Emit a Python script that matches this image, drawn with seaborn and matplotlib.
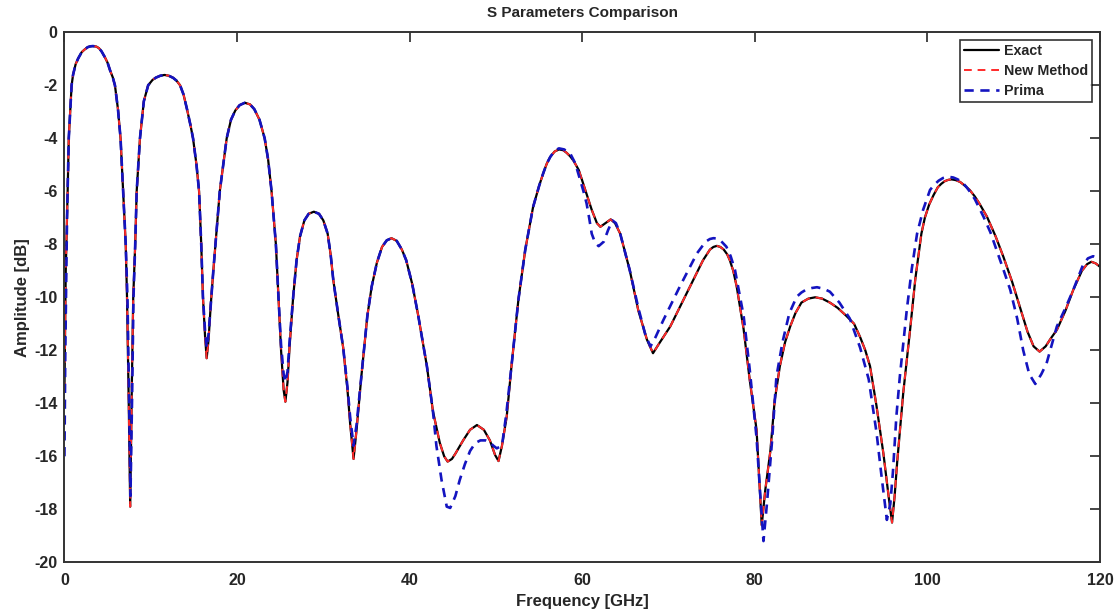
import matplotlib
matplotlib.use("Agg")
import matplotlib.pyplot as plt
import seaborn as sns

# values: (frequency GHz, amplitude dB)
exact_points = [
    (0.0, -13.5), (0.15, -9.0), (0.37, -6.0), (0.5, -4.0), (0.83, -2.0), (1.0, -1.6), (1.3, -1.2), (1.6, -0.98),
    (2.0, -0.75), (2.3, -0.66), (2.7, -0.56), (3.0, -0.53), (3.3, -0.52), (3.7, -0.54), (4.0, -0.6), (4.3, -0.72),
    (4.7, -0.95), (5.0, -1.15), (5.3, -1.45), (5.6, -1.7), (5.85, -2.0), (6.2, -2.9), (6.5, -4.0), (6.8, -6.0),
    (7.1, -8.0), (7.25, -10.0), (7.45, -14.0), (7.62, -17.9),
    (7.8, -13.5), (7.97, -10.0), (8.2, -8.0), (8.37, -6.0), (8.75, -4.0), (9.2, -2.6), (9.7, -2.0), (10.2, -1.8),
    (10.6, -1.71), (11.1, -1.64), (11.6, -1.61), (12.1, -1.64), (12.6, -1.72), (13.0, -1.83), (13.4, -2.0),
    (13.8, -2.35), (14.2, -2.9), (14.6, -3.5), (14.9, -4.0), (15.3, -5.0), (15.6, -6.0), (15.85, -8.0),
    (16.05, -10.0), (16.3, -11.5), (16.48, -12.3),
    (16.7, -11.6), (16.95, -10.3), (17.25, -9.0), (17.5, -8.0), (18.0, -6.0), (18.8, -4.0), (19.3, -3.3),
    (19.8, -2.95), (20.3, -2.75), (20.9, -2.66), (21.5, -2.72), (22.0, -2.9), (22.6, -3.3), (23.2, -4.0),
    (23.6, -4.8), (24.0, -6.0), (24.5, -8.0), (24.8, -10.0), (25.1, -12.0), (25.4, -13.5), (25.6, -13.94),
    (25.85, -13.2), (26.1, -11.8), (26.5, -10.0), (26.9, -8.6), (27.3, -7.7), (27.8, -7.1), (28.3, -6.85),
    (28.9, -6.77), (29.5, -6.85), (30.0, -7.1), (30.5, -7.6), (30.85, -8.4), (31.15, -9.34), (31.7, -10.6),
    (32.3, -11.9), (32.8, -13.5), (33.1, -14.75), (33.5, -16.1),
    (33.85, -15.0), (34.4, -13.0), (35.1, -10.7), (35.6, -9.6), (36.2, -8.7), (36.8, -8.1), (37.35, -7.85),
    (37.9, -7.77), (38.5, -7.87), (39.1, -8.2), (39.6, -8.6), (40.3, -9.5), (41.0, -10.7), (42.0, -12.6),
    (42.7, -14.3), (43.5, -15.5), (44.0, -16.0), (44.4, -16.2), (44.9, -16.1), (45.3, -15.9), (46.2, -15.4),
    (47.0, -15.0), (47.8, -14.82), (48.6, -15.0), (49.3, -15.4), (49.9, -15.95), (50.3, -16.18), (50.7, -15.6),
    (51.25, -14.5), (51.8, -12.6), (52.6, -10.1), (53.4, -8.2), (54.3, -6.6), (55.0, -5.8), (55.5, -5.3),
    (55.9, -4.95), (56.3, -4.7), (56.8, -4.5), (57.3, -4.42), (57.8, -4.45), (58.2, -4.55), (58.6, -4.68),
    (59.0, -4.85), (59.6, -5.2), (60.1, -5.7), (61.1, -6.7), (61.7, -7.2), (62.1, -7.34), (62.7, -7.2),
    (63.3, -7.06), (63.8, -7.2), (64.4, -7.6), (65.5, -8.97), (66.5, -10.5), (67.5, -11.6), (68.2, -12.11),
    (69.0, -11.7), (70.2, -11.1), (72.1, -9.85), (73.1, -9.2), (74.0, -8.6), (74.8, -8.2), (75.2, -8.1),
    (75.6, -8.06), (76.0, -8.1), (76.4, -8.2), (76.8, -8.38), (77.1, -8.6), (77.5, -9.0), (77.9, -9.6),
    (78.7, -11.2), (79.4, -13.1), (80.2, -15.0), (80.5, -16.8), (80.8, -18.6),
    (81.2, -17.3), (81.8, -15.8), (82.3, -13.9), (82.9, -12.6), (83.5, -11.7), (84.1, -11.1), (84.7, -10.6),
    (85.4, -10.2), (86.2, -10.05), (87.0, -10.0), (87.8, -10.05), (88.7, -10.2), (89.6, -10.4), (90.6, -10.7),
    (91.5, -11.0), (92.2, -11.5), (92.8, -12.0), (93.35, -12.6), (94.1, -14.1), (94.9, -15.9), (95.5, -17.5),
    (95.9, -18.5),
    (96.2, -17.5), (96.5, -16.2), (97.2, -13.6), (98.0, -11.2), (98.6, -9.3), (99.3, -7.6), (99.7, -7.0),
    (100.2, -6.5), (100.7, -6.15), (101.2, -5.85), (101.6, -5.72), (102.0, -5.62), (102.4, -5.57),
    (102.8, -5.55), (103.3, -5.58), (103.8, -5.65), (104.3, -5.78), (104.9, -5.95), (105.5, -6.2),
    (106.0, -6.45), (106.9, -6.96), (107.9, -7.7), (108.8, -8.47), (109.8, -9.4), (110.7, -10.35),
    (111.6, -11.3), (112.3, -11.85), (113.0, -12.05), (113.7, -11.85), (114.3, -11.55), (115.0, -11.23),
    (116.0, -10.5), (116.9, -9.72), (117.9, -9.0), (118.5, -8.75), (119.0, -8.66), (119.5, -8.72), (120.0, -8.85),
]

prima_points = [
    (0.0, -16.0), (0.1, -12.0), (0.3, -7.0), (0.5, -4.0), (0.83, -2.0), (1.0, -1.6), (1.3, -1.2), (1.6, -0.98),
    (2.0, -0.75), (2.3, -0.66), (2.7, -0.56), (3.0, -0.53), (3.3, -0.52), (3.7, -0.54), (4.0, -0.6), (4.3, -0.72),
    (4.7, -0.95), (5.0, -1.15), (5.3, -1.45), (5.6, -1.7), (5.85, -2.0), (6.2, -2.9), (6.5, -4.0), (6.8, -6.0),
    (7.1, -8.0), (7.3, -10.0), (7.5, -14.0), (7.65, -17.5),
    (7.85, -13.5), (8.0, -10.0), (8.2, -8.0), (8.37, -6.0), (8.75, -4.0), (9.2, -2.6), (9.7, -2.0), (10.2, -1.8),
    (10.6, -1.71), (11.1, -1.64), (11.6, -1.61), (12.1, -1.64), (12.6, -1.72), (13.0, -1.83), (13.4, -2.0),
    (13.8, -2.35), (14.2, -2.9), (14.6, -3.5), (14.9, -4.0), (15.3, -5.0), (15.6, -6.0), (15.85, -8.0),
    (16.05, -10.0), (16.3, -11.3), (16.48, -11.9),
    (16.7, -11.4), (16.95, -10.3), (17.25, -9.0), (17.5, -8.0), (18.0, -6.0), (18.8, -4.0), (19.3, -3.3),
    (19.8, -2.95), (20.3, -2.75), (20.9, -2.66), (21.5, -2.72), (22.0, -2.9), (22.6, -3.3), (23.2, -4.0),
    (23.6, -4.8), (24.0, -6.0), (24.5, -8.0), (24.8, -10.0), (25.1, -11.8), (25.4, -12.9), (25.6, -13.2),
    (25.85, -12.8), (26.1, -11.6), (26.5, -10.0), (26.9, -8.6), (27.3, -7.7), (27.8, -7.1), (28.3, -6.85),
    (28.9, -6.77), (29.5, -6.85), (30.0, -7.1), (30.5, -7.6), (30.85, -8.4), (31.15, -9.34), (31.7, -10.6),
    (32.3, -11.9), (32.8, -13.4), (33.1, -14.5), (33.5, -15.6),
    (33.85, -14.8), (34.4, -13.0), (35.1, -10.7), (35.6, -9.6), (36.2, -8.7), (36.8, -8.1), (37.35, -7.85),
    (37.9, -7.77), (38.5, -7.87), (39.1, -8.2), (39.6, -8.6), (40.3, -9.5), (41.0, -10.7), (42.0, -12.6),
    (42.7, -14.3), (43.1, -15.6), (43.7, -16.9), (44.3, -17.9), (44.7, -17.95), (45.3, -17.5), (45.8, -16.9),
    (46.4, -16.3), (47.0, -15.8), (47.6, -15.5), (48.2, -15.4), (48.8, -15.4), (49.3, -15.47), (49.7, -15.6),
    (50.1, -15.7), (50.7, -15.6), (51.2, -14.4), (51.8, -12.6), (52.6, -10.1), (53.4, -8.2), (54.3, -6.6),
    (55.0, -5.8), (55.5, -5.3), (55.9, -4.95), (56.3, -4.7), (56.8, -4.47), (57.3, -4.38), (57.9, -4.42),
    (58.6, -4.57), (59.2, -4.95), (59.7, -5.5), (60.1, -5.95), (60.5, -6.45), (60.8, -7.0), (61.1, -7.6),
    (61.5, -7.95), (61.9, -8.07), (62.5, -7.9), (63.0, -7.46), (63.5, -7.1), (63.9, -7.2), (64.4, -7.6),
    (65.5, -8.97), (66.5, -10.4), (67.3, -11.4), (67.9, -11.86), (68.5, -11.5), (69.4, -10.86), (71.3, -9.6),
    (73.3, -8.34), (74.3, -7.9), (74.8, -7.8), (75.2, -7.77), (75.6, -7.78), (76.0, -7.85), (76.7, -8.09),
    (77.2, -8.45), (77.7, -8.97), (78.7, -10.7), (79.4, -12.7), (80.2, -15.3), (80.6, -17.3), (81.0, -19.2),
    (81.4, -17.8), (82.0, -15.4), (82.5, -13.0), (83.2, -11.7), (84.0, -10.6), (84.85, -9.98), (85.4, -9.82),
    (86.0, -9.7), (86.6, -9.65), (87.2, -9.62), (88.0, -9.68), (88.7, -9.79), (89.8, -10.2), (91.0, -10.8),
    (92.2, -11.9), (93.2, -13.1), (94.1, -15.1), (94.7, -16.8), (95.3, -18.4),
    (95.7, -17.8), (96.0, -16.6), (96.4, -14.5), (96.8, -13.0), (97.6, -10.5), (98.2, -8.9), (98.8, -7.6),
    (99.5, -6.7), (100.3, -5.95), (100.8, -5.75), (101.3, -5.6), (101.8, -5.5), (102.4, -5.45), (103.0, -5.48),
    (103.5, -5.55), (104.0, -5.65), (104.5, -5.83), (105.0, -6.05), (105.5, -6.3), (106.5, -6.96),
    (107.3, -7.55), (108.0, -8.2), (108.8, -8.95), (109.6, -9.72), (110.4, -10.8), (111.1, -12.0),
    (111.8, -12.9), (112.5, -13.27), (113.2, -12.9), (113.8, -12.5), (114.4, -11.8), (115.0, -11.1),
    (116.0, -10.4), (116.9, -9.72), (118.0, -8.8), (118.6, -8.53), (119.2, -8.45), (119.8, -8.53), (120.0, -8.6),
]

exact_freq = [p[0] for p in exact_points]
exact_db = [p[1] for p in exact_points]
# the new method lies on top of the exact response everywhere
new_freq = list(exact_freq)
new_db = list(exact_db)
prima_freq = [p[0] for p in prima_points]
prima_db = [p[1] for p in prima_points]

sns.set_style("white")
plt.rcParams['font.family'] = ['Liberation Sans', 'DejaVu Sans']
plt.rcParams['axes.unicode_minus'] = False
plt.rcParams['font.weight'] = 'bold'

fig = plt.figure(figsize=(11.17, 6.15), dpi=100)
ax = fig.add_axes([0.0577, 0.0857, 0.9271, 0.8618])

sns.lineplot(x=exact_freq, y=exact_db, ax=ax, color='black', linewidth=1.6, label='Exact', sort=False)
sns.lineplot(x=new_freq, y=new_db, ax=ax, color='#ff2a2a', linewidth=1.4, label='New Method', sort=False,
             linestyle=(0, (4, 3)))
sns.lineplot(x=prima_freq, y=prima_db, ax=ax, color='#1414c0', linewidth=1.9, label='Prima', sort=False,
             linestyle=(0, (3.5, 2.5)))

ax.set_xlim(0, 120)
ax.set_ylim(-20, 0)
ax.set_xticks(range(0, 121, 20))
ax.set_yticks(range(-20, 1, 2))
ax.tick_params(direction='in', length=7, width=1.2, top=True, right=True, labelsize=11.5, colors='#262626')
ax.tick_params(axis='x', pad=8)
ax.tick_params(axis='y', pad=5)
for lab in ax.get_xticklabels() + ax.get_yticklabels():
    lab.set_fontweight('bold')
for sp in ax.spines.values():
    sp.set_linewidth(1.4)
    sp.set_color('#333333')

ax.set_title('S Parameters Comparison', fontsize=11, fontweight='bold', pad=11)
ax.set_xlabel('Frequency [GHz]', fontsize=12, fontweight='bold', labelpad=4)
ax.set_ylabel('Amplitude [dB]', fontsize=12, fontweight='bold', labelpad=3)

leg = ax.legend(loc='upper right', fontsize=10.3, frameon=True, fancybox=False, handlelength=2.4,
                handletextpad=0.35, labelspacing=0.4, borderpad=0.3, borderaxespad=0.55)
leg.get_frame().set_edgecolor('black')
leg.get_frame().set_linewidth(1.2)
for t in leg.get_texts():
    t.set_fontweight('bold')

plt.savefig('out.png', dpi=100)
plt.close()
